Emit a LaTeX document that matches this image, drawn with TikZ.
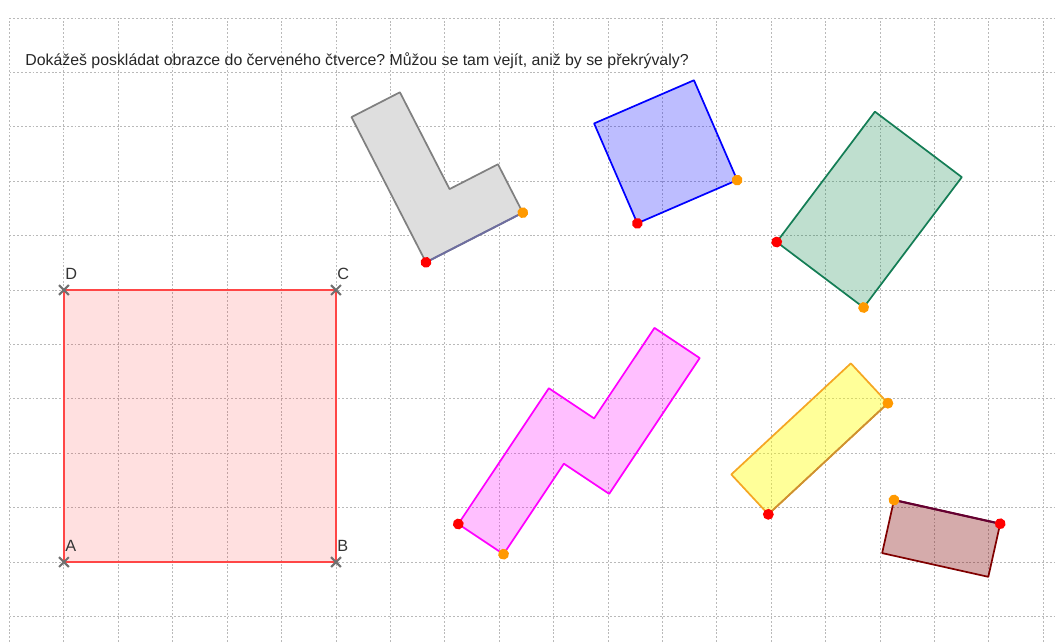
\documentclass[tikz,border=0pt]{standalone}
\usepackage{fontspec}
\setmainfont{Liberation Sans}
\usetikzlibrary{arrows}
\frenchspacing

\definecolor{gridgray}{RGB}{185,185,185}
\definecolor{crossgray}{RGB}{112,112,112}
\definecolor{sqred}{RGB}{255,70,70}
\definecolor{lgray}{RGB}{128,128,128}
\definecolor{slate}{RGB}{110,110,160}
\definecolor{pblue}{RGB}{0,0,255}
\definecolor{dgreen}{RGB}{20,125,85}
\definecolor{lgreen}{RGB}{0,128,64}
\definecolor{pmagenta}{RGB}{255,0,255}
\definecolor{pyellow}{RGB}{255,255,0}
\definecolor{yorange}{RGB}{245,166,35}
\definecolor{ydark}{RGB}{205,145,50}
\definecolor{maroon}{RGB}{128,0,0}
\definecolor{mdark}{RGB}{100,0,50}
\definecolor{ptred}{RGB}{255,0,0}
\definecolor{ptorange}{RGB}{255,153,0}

\tikzset{
  gridline/.style={gridgray, line width=0.5pt, dash pattern=on 1pt off 1pt},
  piece/.style={line width=0.9pt, line join=round},
  reddot/.style={fill=ptred},
  orangedot/.style={fill=ptorange}
}

\begin{document}
\begin{tikzpicture}
\useasboundingbox (-1.176,-1.4706) rectangle (18.235,10.331);

% grid
\foreach \x in {-1,...,18}
\draw[gridline] (\x,-1.4706) -- (\x,10);
\foreach \y in {-1,...,10}
\draw[gridline] (-1,\y) -- (18.235,\y);

% question
\node[anchor=base west, inner sep=0pt, text=black!85, font=\fontsize{8.3}{10}\selectfont] (question) at (-0.717,9.123)
{Dokážeš poskládat obrazce do červeného čtverce? Můžou se tam vejít, aniž by se překrývaly?};

% red square ABCD
\draw[sqred, line width=1.5pt, fill=red, fill opacity=0.12] (0,0) -- (5,0) -- (5,5) -- (0,5) -- cycle;
\foreach \p/\n in {(0,0)/A, (5,0)/B, (5,5)/C, (0,5)/D}{
  \draw[crossgray, line width=1.1pt] \p +(-0.09,-0.09) -- +(0.09,0.09) \p +(-0.09,0.09) -- +(0.09,-0.09);
  \path \p ++(0.02,0.2) node[anchor=base west, inner sep=0pt, text=black!80, font=\fontsize{8.5}{9}\selectfont] (\n) {\n};
}

% gray L
\begin{scope}[shift={(6.654,5.509)}, rotate=27.15]
\draw[piece, lgray, fill=black!13] (0,0) -- (2,0) -- (2,1) -- (1,1) -- (1,3) -- (0,3) -- cycle;
\draw[slate, line width=1pt] (0,0) -- (2,0);
\fill[reddot] (0,0) circle (0.1);
\fill[orangedot] (2,0) circle (0.1);
\end{scope}

% blue square
\begin{scope}[shift={(10.539,6.226)}, rotate=23.4]
\draw[piece, pblue, fill=pblue, fill opacity=0.26] (0,0) -- (2,0) -- (2,2) -- (0,2) -- cycle;
\fill[reddot] (0,0) circle (0.1);
\fill[orangedot] (2,0) circle (0.1);
\end{scope}

% green rectangle
\begin{scope}[shift={(13.101,5.882)}, rotate=-37]
\draw[piece, dgreen, fill=lgreen, fill opacity=0.25] (0,0) -- (2,0) -- (2,3) -- (0,3) -- cycle;
\fill[reddot] (0,0) circle (0.1);
\fill[orangedot] (2,0) circle (0.1);
\end{scope}

% magenta piece
\begin{scope}[shift={(7.248,0.699)}, rotate=-33.7]
\draw[piece, pmagenta, fill=pmagenta, fill opacity=0.25] (0,0) -- (1,0) -- (1,2) -- (2,2) -- (2,5) -- (1,5) -- (1,3) -- (0,3) -- cycle;
\fill[reddot] (0,0) circle (0.1);
\fill[orangedot] (1,0) circle (0.1);
\end{scope}

% yellow rectangle
\begin{scope}[shift={(12.947,0.877)}, rotate=42.9]
\draw[piece, yorange, fill=pyellow, fill opacity=0.4] (0,0) -- (3,0) -- (3,1) -- (0,1) -- cycle;
\draw[ydark, line width=0.9pt] (0,0) -- (3,0);
\fill[reddot] (0,0) circle (0.1);
\fill[orangedot] (3,0) circle (0.1);
\end{scope}

% brown rectangle
\begin{scope}[shift={(15.257,1.140)}, rotate=-12.6]
\draw[piece, maroon, fill=maroon, fill opacity=0.33] (0,0) -- (2,0) -- (2,-1) -- (0,-1) -- cycle;
\draw[mdark, line width=1.1pt] (0,0) -- (2,0);
\fill[orangedot] (0,0) circle (0.1);
\fill[reddot] (2,0) circle (0.1);
\end{scope}
\end{tikzpicture}
\end{document}
